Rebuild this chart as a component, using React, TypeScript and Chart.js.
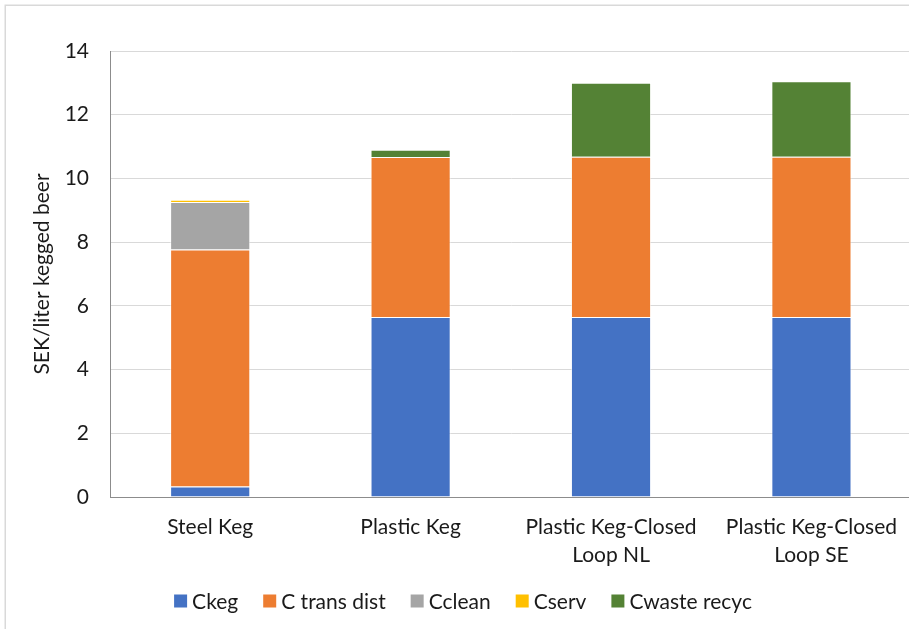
import React, { useEffect, useRef } from 'react';
import { Chart, registerables } from 'chart.js';

Chart.register(...registerables);

const categories: string[][] = [
  ['Steel Keg'],
  ['Plastic Keg'],
  ['Plastic Keg-Closed', 'Loop NL'],
  ['Plastic Keg-Closed', 'Loop SE'],
];
const seriesNames = ['Ckeg', 'C trans dist', 'Cclean', 'Cserv', 'Cwaste recyc'];
const ckeg = [0.33, 5.65, 5.65, 5.65];
const cTransDist = [7.44, 5.02, 5.03, 5.03];
const cClean = [1.49, 0, 0, 0];
const cServ = [0.07, 0, 0, 0];
const cWasteRecyc = [0, 0.23, 2.32, 2.37];
const seriesColors = ['#4472C4', '#ED7D31', '#A5A5A5', '#FFC000', '#548235'];
const yMin = 0;
const yMax = 14;
const yStep = 2;
const yTitle = 'SEK/liter kegged beer';

const FONT_FAMILY = 'Lato, "Noto Sans", sans-serif';
const FONT_SIZE = 21;
const TEXT_COLOR = '#1a1a1a';

const frameAndLegend = {
  id: 'frameAndLegend',
  beforeDraw(chart: any) {
    const ctx = chart.ctx;
    ctx.save();
    ctx.fillStyle = '#ffffff';
    ctx.fillRect(0, 0, chart.width, chart.height);
    ctx.strokeStyle = '#D9D9D9';
    ctx.lineWidth = 1.5;
    ctx.strokeRect(5.25, 5.25, chart.width + 20, chart.height + 20);
    ctx.restore();
  },
  afterDraw(chart: any) {
    const ctx = chart.ctx;
    ctx.save();
    ctx.font = `${FONT_SIZE}px ${FONT_FAMILY}`;
    const box = 13;
    const gapText = 5;
    const gapItem = 25;
    const items = chart.data.datasets.map((d: any) => ({
      label: d.label as string,
      color: d.backgroundColor as string,
      w: ctx.measureText(d.label).width,
    }));
    const total =
      items.reduce((s: number, it: any) => s + box + gapText + it.w, 0) + gapItem * (items.length - 1);
    let x = 463 - total / 2;
    const y = 601;
    ctx.textBaseline = 'middle';
    ctx.textAlign = 'left';
    for (const it of items) {
      ctx.fillStyle = it.color;
      ctx.fillRect(x, y - box / 2, box, box);
      ctx.fillStyle = TEXT_COLOR;
      ctx.fillText(it.label, x + box + gapText, y + 1);
      x += box + gapText + it.w + gapItem;
    }
    ctx.restore();
  },
};

export default function App() {
  const ref = useRef<HTMLCanvasElement | null>(null);

  useEffect(() => {
    if (!ref.current) return;
    const font = { family: FONT_FAMILY, size: FONT_SIZE };
    const xFont = { family: FONT_FAMILY, size: FONT_SIZE, lineHeight: 1.34 };
    const values = [ckeg, cTransDist, cClean, cServ, cWasteRecyc];
    const chart = new Chart(ref.current, {
      type: 'bar',
      data: {
        labels: categories,
        datasets: seriesNames.map((name, i) => ({
          label: name,
          data: values[i],
          backgroundColor: seriesColors[i],
          borderColor: 'rgba(255,255,255,0.55)',
          borderWidth: 1,
          categoryPercentage: 1,
          barPercentage: 0.4,
        })),
      },
      options: {
        responsive: false,
        animation: false,
        layout: { padding: { left: 0, right: 0, top: 51, bottom: 0 } },
        plugins: {
          legend: { display: false },
          tooltip: { enabled: false },
        },
        scales: {
          x: {
            stacked: true,
            grid: { display: false, drawTicks: false },
            border: { color: '#8C8C8C', width: 1 },
            ticks: { font: xFont, color: TEXT_COLOR, padding: 16, maxRotation: 0, autoSkip: false },
            afterFit: (s: any) => {
              s.height = 132;
            },
          },
          y: {
            stacked: true,
            min: yMin,
            max: yMax,
            ticks: { stepSize: yStep, padding: 21, font, color: TEXT_COLOR },
            grid: { color: '#D9D9D9', drawTicks: false, lineWidth: 1 },
            border: { color: '#8C8C8C', width: 1 },
            title: {
              display: true,
              text: yTitle,
              font,
              color: TEXT_COLOR,
              padding: { top: 30, bottom: 0 },
            },
            afterFit: (s: any) => {
              s.width = 110;
            },
          },
        },
      },
      plugins: [frameAndLegend],
    });
    return () => chart.destroy();
  }, []);

  return (
    <div
      style={{
        position: 'fixed',
        left: 0,
        top: 0,
        width: 909,
        height: 629,
        overflow: 'hidden',
        background: '#ffffff',
      }}
    >
      <canvas ref={ref} width={913} height={629} style={{ display: 'block' }} />
    </div>
  );
}
